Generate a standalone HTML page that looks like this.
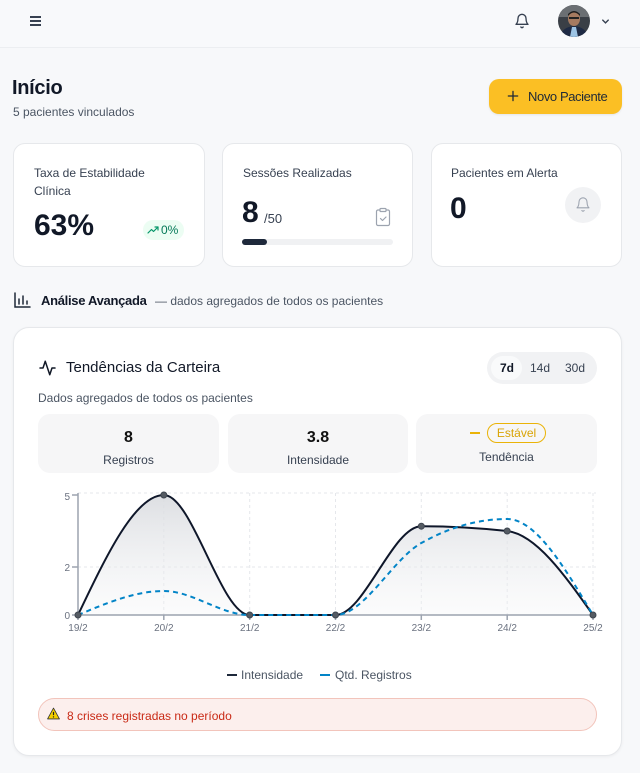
<!DOCTYPE html>
<html><head><meta charset="utf-8"><style>
*{box-sizing:border-box;margin:0;padding:0}
body{width:640px;height:773px;background:#f7f8fa;font-family:"Liberation Sans",sans-serif;color:#111827;position:relative;overflow:hidden}
.a{position:absolute}
.hdr{left:0;top:0;width:640px;height:48px;background:#f8f9fb;border-bottom:1px solid #eceef1}
.card{background:#fff;border:1px solid #e6e8eb;border-radius:12px}
.lbl{font-size:12px;color:#374151;line-height:18px}
.big{font-size:30px;font-weight:bold;color:#111827;line-height:36px}
.stat{background:#f6f6f7;border-radius:12px}
.sv{font-size:16px;font-weight:bold;text-align:center;width:100%;color:#111}
.sl{font-size:12px;color:#374151;text-align:center;width:100%}
</style></head><body>
<div class="a hdr"></div>
<!-- hamburger -->
<div class="a" style="left:30px;top:16px;width:11px;height:2px;background:#374151"></div>
<div class="a" style="left:30px;top:20px;width:11px;height:2px;background:#374151"></div>
<div class="a" style="left:30px;top:24px;width:11px;height:2px;background:#374151"></div>
<!-- bell -->
<svg class="a" style="left:514px;top:13px" width="16" height="16" viewBox="0 0 24 24" fill="none" stroke="#374151" stroke-width="2" stroke-linecap="round" stroke-linejoin="round"><path d="M6 8a6 6 0 0 1 12 0c0 7 3 9 3 9H3s3-2 3-9"/><path d="M10.3 21a1.94 1.94 0 0 0 3.4 0"/></svg>
<!-- avatar -->
<svg class="a" style="left:558px;top:5px" width="32" height="32" viewBox="0 0 32 32"><defs><clipPath id="cc"><circle cx="16" cy="16" r="16"/></clipPath></defs><g clip-path="url(#cc)"><rect width="32" height="32" fill="#3a3f46"/><rect x="0" y="0" width="32" height="12" fill="#6b6f73"/><path d="M2 32 Q4 22 16 21 Q28 22 30 32Z" fill="#1e2a44"/><path d="M12 32 L14 22 L18 22 L20 32Z" fill="#9cc3e4"/><ellipse cx="16" cy="14" rx="6" ry="7" fill="#a57a60"/><path d="M10 11 Q16 4 22 11 L22 9 Q16 3 10 9Z" fill="#1c1c1c"/><rect x="11" y="12" width="10" height="2" fill="#222"/></g></svg>
<svg class="a" style="left:600px;top:16px" width="11" height="11" viewBox="0 0 24 24" fill="none" stroke="#374151" stroke-width="3" stroke-linecap="round"><path d="M6 9l6 6 6-6"/></svg>

<!-- title -->
<div class="a" style="left:12px;top:77px;font-size:20px;font-weight:bold;color:#111827;letter-spacing:-0.3px">Início</div>
<div class="a" style="left:13px;top:105px;font-size:12px;color:#4b5563">5 pacientes vinculados</div>
<div class="a" style="left:489px;top:79px;width:133px;height:35px;background:#fbbf24;border-radius:10px;box-shadow:0 1px 2px rgba(0,0,0,.08)"></div>
<svg class="a" style="left:506px;top:89px" width="14" height="14" viewBox="0 0 24 24" fill="none" stroke="#1f2937" stroke-width="2.2" stroke-linecap="round"><path d="M12 4v16M4 12h16"/></svg>
<div class="a" style="left:528px;top:89px;font-size:13px;color:#1f2937;letter-spacing:-0.4px">Novo Paciente</div>

<!-- cards -->
<div class="a card" style="left:13px;top:143px;width:192px;height:124px"></div>
<div class="a card" style="left:222px;top:143px;width:191px;height:124px"></div>
<div class="a card" style="left:431px;top:143px;width:191px;height:124px"></div>

<div class="a lbl" style="left:34px;top:164px">Taxa de Estabilidade<br>Clínica</div>
<div class="a big" style="left:34px;top:208px">63%</div>
<div class="a" style="left:143px;top:220px;width:41px;height:20px;background:#ecfdf3;border-radius:10px"></div>
<svg class="a" style="left:147px;top:225px" width="12" height="10" viewBox="0 0 24 20" fill="none" stroke="#059669" stroke-width="2.4" stroke-linecap="round" stroke-linejoin="round"><path d="M2 16l7-7 4 4 9-9"/><path d="M16 4h6v6"/></svg>
<div class="a" style="left:161px;top:223px;font-size:12px;color:#047857">0%</div>

<div class="a lbl" style="left:243px;top:164px">Sessões Realizadas</div>
<div class="a big" style="left:242px;top:195px">8</div>
<div class="a" style="left:264px;top:211px;font-size:13px;color:#374151">/50</div>
<svg class="a" style="left:374px;top:207px" width="18" height="20" viewBox="0 0 18 20" fill="none" stroke="#9ca3af" stroke-width="1.2" stroke-linejoin="round"><rect x="2.5" y="3" width="13" height="15.5" rx="1.5"/><rect x="6" y="1.5" width="6" height="3" rx="0.8" fill="#fff"/><path d="M6.5 11.5l2 2 3.5-3.5" stroke-linecap="round"/></svg>
<div class="a" style="left:242px;top:239px;width:151px;height:6px;background:#f0f1f3;border-radius:3px"></div>
<div class="a" style="left:242px;top:239px;width:25px;height:6px;background:#1e293b;border-radius:3px"></div>

<div class="a lbl" style="left:451px;top:164px">Pacientes em Alerta</div>
<div class="a big" style="left:450px;top:191px">0</div>
<div class="a" style="left:565px;top:187px;width:36px;height:36px;border-radius:18px;background:#f1f2f4"></div>
<svg class="a" style="left:575px;top:196px" width="16" height="17" viewBox="0 0 24 24" fill="none" stroke="#9ca3af" stroke-width="1.6" stroke-linecap="round" stroke-linejoin="round"><path d="M6 8a6 6 0 0 1 12 0c0 7 3 9 3 9H3s3-2 3-9"/><path d="M10.3 21a1.94 1.94 0 0 0 3.4 0"/></svg>

<!-- section heading -->
<svg class="a" style="left:14px;top:292px" width="17" height="16" viewBox="0 0 17 16" fill="none" stroke="#1f2937" stroke-width="1.5" stroke-linecap="round"><path d="M1 1v14h15"/><path d="M5 12V7M9 12V4M13 12V9"/></svg>
<div class="a" style="left:41px;top:293px;font-size:13px;font-weight:bold;color:#111827;letter-spacing:-0.3px">Análise Avançada</div>
<div class="a" style="left:155px;top:294px;font-size:12px;color:#4b5563">— dados agregados de todos os pacientes</div>

<!-- big card -->
<div class="a" style="left:13px;top:327px;width:609px;height:429px;background:#fff;border:1px solid #e6e8eb;border-radius:16px;box-shadow:0 1px 3px rgba(0,0,0,.05)"></div>
<svg class="a" style="left:38px;top:359px" width="19" height="18" viewBox="0 0 24 24" fill="none" stroke="#111827" stroke-width="2" stroke-linecap="round" stroke-linejoin="round"><path d="M22 12h-4l-3 9L9 3l-3 9H2"/></svg>
<div class="a" style="left:66px;top:359px;font-size:15px;color:#111827">Tendências da Carteira</div>
<div class="a" style="left:487px;top:352px;width:110px;height:32px;background:#f1f2f4;border-radius:16px"></div>
<div class="a" style="left:491px;top:356px;width:31px;height:24px;background:#f9fafb;border-radius:12px"></div>
<div class="a" style="left:500px;top:361px;font-size:12px;font-weight:bold;color:#111827">7d</div>
<div class="a" style="left:530px;top:361px;font-size:12px;color:#374151">14d</div>
<div class="a" style="left:565px;top:361px;font-size:12px;color:#374151">30d</div>
<div class="a" style="left:38px;top:391px;font-size:12px;color:#4b5563">Dados agregados de todos os pacientes</div>

<div class="a stat" style="left:38px;top:414px;width:181px;height:59px"></div>
<div class="a stat" style="left:228px;top:414px;width:180px;height:59px"></div>
<div class="a stat" style="left:416px;top:414px;width:181px;height:59px"></div>
<div class="a sv" style="left:38px;top:429px;width:181px">8</div>
<div class="a sl" style="left:38px;top:453px;width:181px">Registros</div>
<div class="a sv" style="left:228px;top:429px;width:180px">3.8</div>
<div class="a sl" style="left:228px;top:453px;width:180px">Intensidade</div>
<div class="a" style="left:470px;top:432px;width:10px;height:2px;background:#eab308"></div>
<div class="a" style="left:487px;top:423px;width:59px;height:20px;border:1px solid #eab308;border-radius:10px;font-size:12px;color:#d9a406;text-align:center;line-height:18px">Estável</div>
<div class="a sl" style="left:416px;top:450px;width:181px">Tendência</div>

<!-- chart -->
<svg class="a" style="left:0;top:0" width="640" height="773" viewBox="0 0 640 773">
<defs><linearGradient id="g" x1="0" y1="495" x2="0" y2="615" gradientUnits="userSpaceOnUse"><stop offset="0" stop-color="#d9dbdf" stop-opacity="0.9"/><stop offset="1" stop-color="#f3f4f6" stop-opacity="0.3"/></linearGradient></defs>
<g stroke="#e5e7eb" stroke-width="1" stroke-dasharray="3 3">
<line x1="78" y1="493" x2="596" y2="493"/><line x1="78" y1="567" x2="596" y2="567"/>
<line x1="163.8" y1="493" x2="163.8" y2="615"/><line x1="249.7" y1="493" x2="249.7" y2="615"/><line x1="335.5" y1="493" x2="335.5" y2="615"/><line x1="421.3" y1="493" x2="421.3" y2="615"/><line x1="507.2" y1="493" x2="507.2" y2="615"/><line x1="593" y1="493" x2="593" y2="615"/>
</g>
<path d="M78,615 C106.61,555 135.22,495 163.83,495 C192.44,495 221.06,615 249.67,615 C278.28,615 306.89,615 335.5,615 C364.11,615 392.72,526.2 421.33,526.2 C449.94,526.2 478.56,527.8 507.17,531 C535.78,534.2 564.39,574.6 593,615 L593,615 L78,615Z" fill="url(#g)"/>
<g stroke="#9ca3af" stroke-width="1.5"><line x1="78" y1="493" x2="78" y2="615"/><line x1="78" y1="615" x2="596" y2="615"/>
<line x1="72" y1="495" x2="78" y2="495"/><line x1="72" y1="567" x2="78" y2="567"/><line x1="72" y1="615" x2="78" y2="615"/>
<line x1="78" y1="615" x2="78" y2="620"/><line x1="163.8" y1="615" x2="163.8" y2="620"/><line x1="249.7" y1="615" x2="249.7" y2="620"/><line x1="335.5" y1="615" x2="335.5" y2="620"/><line x1="421.3" y1="615" x2="421.3" y2="620"/><line x1="507.2" y1="615" x2="507.2" y2="620"/><line x1="593" y1="615" x2="593" y2="620"/></g>
<g font-family="Liberation Sans, sans-serif" font-size="10" fill="#6b7280">
<text x="70" y="500" text-anchor="end">5</text><text x="70" y="571" text-anchor="end">2</text><text x="70" y="619" text-anchor="end">0</text>
<g text-anchor="middle"><text x="78" y="631">19/2</text><text x="163.8" y="631">20/2</text><text x="249.7" y="631">21/2</text><text x="335.5" y="631">22/2</text><text x="421.3" y="631">23/2</text><text x="507.2" y="631">24/2</text><text x="593" y="631">25/2</text></g>
</g>
<path d="M78,615 C106.61,555 135.22,495 163.83,495 C192.44,495 221.06,615 249.67,615 C278.28,615 306.89,615 335.5,615 C364.11,615 392.72,526.2 421.33,526.2 C449.94,526.2 478.56,527.8 507.17,531 C535.78,534.2 564.39,574.6 593,615" fill="none" stroke="#0f172a" stroke-width="2"/>
<path d="M78,615 C106.61,603 135.22,591 163.83,591 C192.44,591 221.06,615 249.67,615 C278.28,615 306.89,615 335.5,615 C364.11,615 392.72,559 421.33,543 C449.94,527 478.56,519 507.17,519 C535.78,519 564.39,567 593,615" fill="none" stroke="#0284c7" stroke-width="2" stroke-dasharray="5 4"/>
<g fill="#555b63" stroke="#3f4650" stroke-width="1">
<circle cx="78" cy="615" r="3"/><circle cx="163.83" cy="495" r="3"/><circle cx="249.67" cy="615" r="3"/><circle cx="335.5" cy="615" r="3"/><circle cx="421.33" cy="526.2" r="3"/><circle cx="507.17" cy="531" r="3"/><circle cx="593" cy="615" r="3"/></g>
<line x1="227" y1="675" x2="237" y2="675" stroke="#1e293b" stroke-width="2"/>
<line x1="320" y1="675" x2="330" y2="675" stroke="#0284c7" stroke-width="2"/>
<g font-family="Liberation Sans, sans-serif" font-size="12" fill="#4b5563"><text x="241" y="679">Intensidade</text><text x="335" y="679">Qtd. Registros</text></g>
</svg>

<!-- alert -->
<div class="a" style="left:38px;top:698px;width:559px;height:33px;background:#fcefed;border:1px solid #f2c4bb;border-radius:17px"></div>
<svg class="a" style="left:47px;top:707px" width="13" height="13" viewBox="0 0 24 22"><path d="M12 1L23 21H1Z" fill="#f5d000" stroke="#333" stroke-width="1.5" stroke-linejoin="round"/><path d="M12 8v6" stroke="#222" stroke-width="2.2"/><circle cx="12" cy="17.3" r="1.3" fill="#222"/></svg>
<div class="a" style="left:67px;top:709px;font-size:12px;color:#c92a16">8 crises registradas no período</div>
</body></html>
